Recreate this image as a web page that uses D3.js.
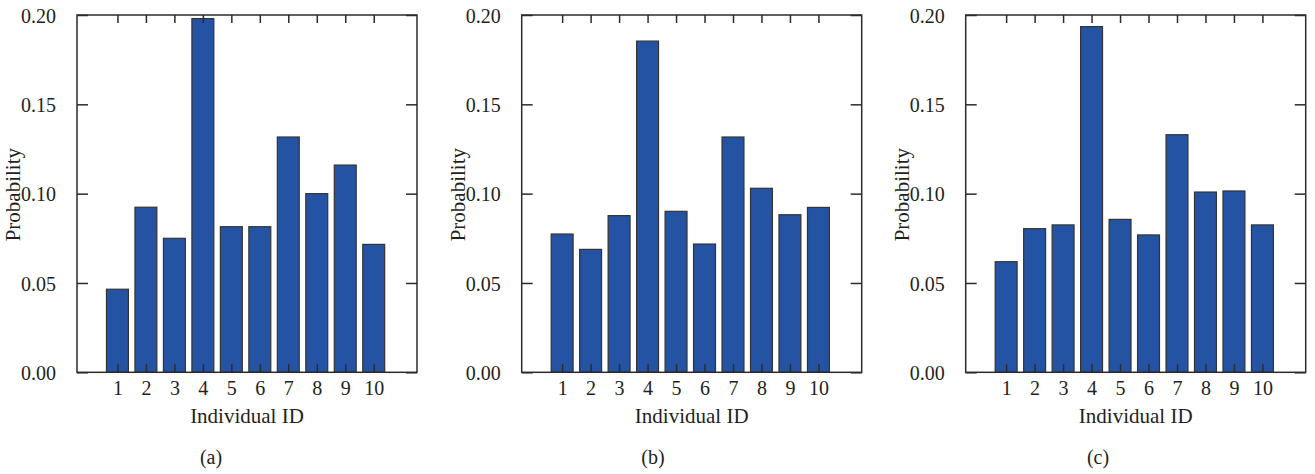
<!DOCTYPE html>
<html>
<head>
<meta charset="utf-8">
<script src="https://cdn.jsdelivr.net/npm/d3@7"></script>
<style>
  body { margin: 0; background: #fff; }
</style>
</head>
<body>
<div class="visualization"></div>
<script>
// individual ids on the x axis
const ids = [1, 2, 3, 4, 5, 6, 7, 8, 9, 10];
// probability per individual, one array per panel
const probA = [0.0465, 0.0924, 0.0750, 0.1980, 0.0815, 0.0815, 0.1317, 0.1000, 0.1160, 0.0716];
const probB = [0.0774, 0.0688, 0.0877, 0.1854, 0.0901, 0.0718, 0.1317, 0.1030, 0.0882, 0.0923];
const probC = [0.0619, 0.0804, 0.0825, 0.1935, 0.0856, 0.0769, 0.1330, 0.1009, 0.1015, 0.0825];
const yTicks = [0.00, 0.05, 0.10, 0.15, 0.20];
const panelLabels = ['(a)', '(b)', '(c)'];

const FONT = 'Liberation Serif';
const width = 1315, height = 474;
const svg = d3.select('.visualization').append('svg')
    .attr('width', width)
    .attr('height', height)
    .attr('font-family', FONT);

const plotW = 340, plotTop = 15, plotBottom = 372.3;
const lefts = [77, 521.7, 965.7];
const labelX = [211, 653, 1098];
const barColor = '#2553a3';
const lineColor = '#2b2b2b';
const textColor = '#231f20';

function drawPanel(i, values) {
    const x0 = lefts[i];
    const g = svg.append('g').attr('transform', `translate(${x0},0)`);
    const x = d3.scaleLinear().domain([-0.42, 11.52]).range([0, plotW]);
    const y = d3.scaleLinear().domain([0, 0.2]).range([plotBottom, plotTop]);
    const bw = x(0.77) - x(0);

    g.append('g').selectAll('rect')
        .data(values)
        .enter().append('rect')
        .attr('x', (d, j) => x(ids[j]) - bw / 2)
        .attr('y', d => y(d))
        .attr('width', bw)
        .attr('height', d => y(0) - y(d))
        .style('fill', barColor)
        .style('stroke', '#333')
        .style('stroke-width', 1.2);

    // axes with inward ticks on all four sides
    const bottom = g.append('g').attr('transform', `translate(0,${plotBottom})`)
        .call(d3.axisBottom(x).tickValues(ids).tickSize(-8).tickPadding(9).tickFormat(d3.format('d')));
    const top = g.append('g').attr('transform', `translate(0,${plotTop})`)
        .call(d3.axisTop(x).tickValues(ids).tickSize(-8).tickFormat(''));
    const left = g.append('g')
        .call(d3.axisLeft(y).tickValues(yTicks).tickSize(-11).tickPadding(21).tickFormat(d3.format('.2f')));
    const right = g.append('g').attr('transform', `translate(${plotW},0)`)
        .call(d3.axisRight(y).tickValues(yTicks).tickSize(-11).tickFormat(''));

    [bottom, top, left, right].forEach(a => {
        a.attr('font-family', FONT).attr('font-size', 20);
        a.selectAll('.domain').remove();
        a.selectAll('line').attr('stroke', lineColor).attr('stroke-width', 1.5);
        a.selectAll('text').attr('fill', textColor);
    });
    left.selectAll('text').attr('dy', '0.36em');

    // frame
    g.append('rect')
        .attr('x', 0).attr('y', plotTop)
        .attr('width', plotW).attr('height', plotBottom - plotTop)
        .attr('fill', 'none').attr('stroke', lineColor).attr('stroke-width', 1.5);

    g.append('text')
        .attr('transform', `translate(-57,${(plotTop + plotBottom) / 2 + 1}) rotate(-90)`)
        .attr('text-anchor', 'middle')
        .attr('font-size', 21)
        .attr('fill', textColor)
        .text('Probability');

    g.append('text')
        .attr('x', plotW / 2)
        .attr('y', 423)
        .attr('text-anchor', 'middle')
        .attr('font-size', 21)
        .attr('fill', textColor)
        .text('Individual ID');

    svg.append('text')
        .attr('x', labelX[i])
        .attr('y', 464)
        .attr('text-anchor', 'middle')
        .attr('font-size', 20)
        .attr('fill', textColor)
        .text(panelLabels[i]);
}

drawPanel(0, probA);
drawPanel(1, probB);
drawPanel(2, probC);
</script>
</body>
</html>
